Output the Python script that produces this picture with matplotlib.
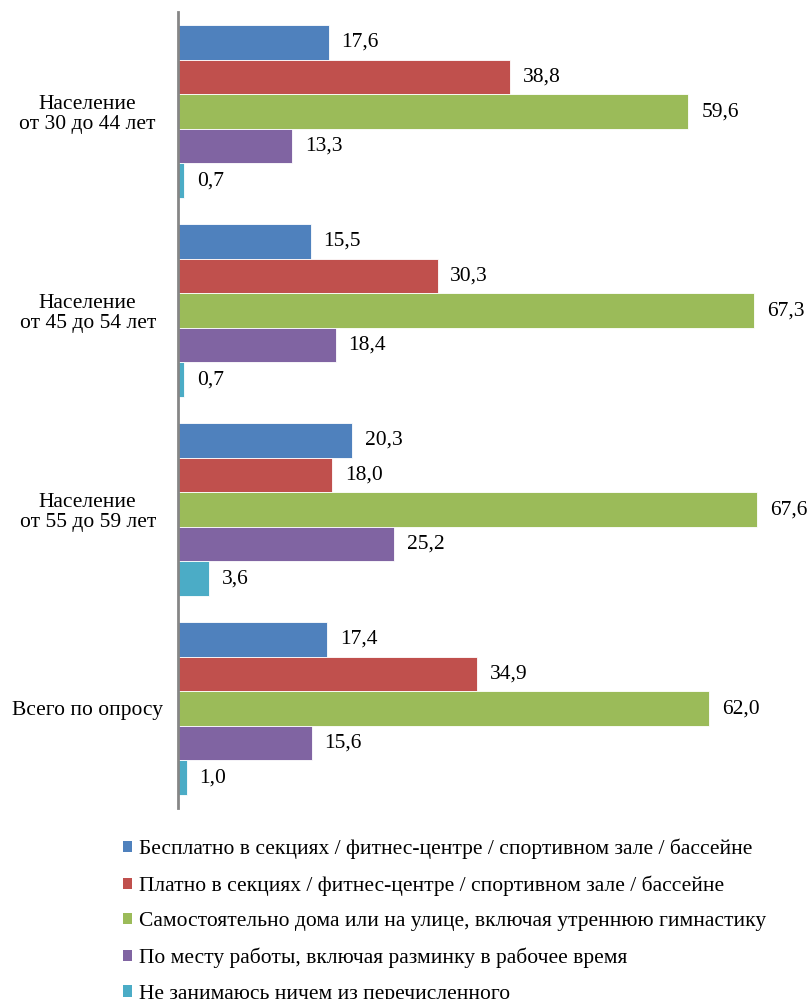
import numpy as np
import matplotlib
matplotlib.use("Agg")
import matplotlib.pyplot as plt
from matplotlib.patches import Patch

plt.rcParams['font.family'] = ['Liberation Serif', 'DejaVu Serif']

groups = ["Население\nот 30 до 44 лет", "Население\nот 45 до 54 лет",
          "Население\nот 55 до 59 лет", "Всего по опросу"]
series = ["Бесплатно в секциях / фитнес-центре / спортивном зале / бассейне",
          "Платно в секциях / фитнес-центре / спортивном зале / бассейне",
          "Самостоятельно дома или на улице, включая утреннюю гимнастику",
          "По месту работы, включая разминку в рабочее время",
          "Не занимаюсь ничем из перечисленного"]
free_gym = [17.6, 15.5, 20.3, 17.4]
paid_gym = [38.8, 30.3, 18.0, 34.9]
home = [59.6, 67.3, 67.6, 62.0]
at_work = [13.3, 18.4, 25.2, 15.6]
nothing = [0.7, 0.7, 3.6, 1.0]
colors = ['#4F81BD', '#C0504D', '#9BBB59', '#8064A2', '#4BACC6']

values = [free_gym, paid_gym, home, at_work, nothing]
fs = 15.5

fig = plt.figure(figsize=(8.09, 9.99), dpi=100)
ax = fig.add_axes([178 / 809, 1 - 808 / 999, 631 / 809, 796 / 999])

h = 0.1735
n = len(series)
for s in range(n):
    for g in range(len(groups)):
        y = g + 0.0665 + s * h + h / 2
        v = values[s][g]
        ax.barh(y, v, height=h, color=colors[s], edgecolor='white', linewidth=0.6)
        ax.text(v + 1.5, y, f"{v:.1f}".replace('.', ','), va='center', ha='left',
                fontsize=fs, color='black')

ax.set_xlim(0, 631 / 8.565)
ax.set_ylim(len(groups), 0)
ax.set_yticks(np.arange(len(groups)) + 0.5)
ax.set_yticklabels(groups, fontsize=fs, ha='center', linespacing=1.1)
ax.tick_params(axis='y', length=0, pad=65)
ax.set_xticks([])
for sp in ['top', 'right', 'bottom']:
    ax.spines[sp].set_visible(False)
ax.spines['left'].set_color('#868686')
ax.spines['left'].set_linewidth(2)

handles = [Patch(facecolor=c, edgecolor='none') for c in colors]
fig.legend(handles, series, loc='upper left', bbox_to_anchor=(114 / 809, 1 - 830 / 999),
           frameon=False, fontsize=fs, handlelength=0.45, handleheight=0.45,
           handletextpad=0.3, labelspacing=0.76, borderaxespad=0)

fig.savefig("out.png", dpi=100)
